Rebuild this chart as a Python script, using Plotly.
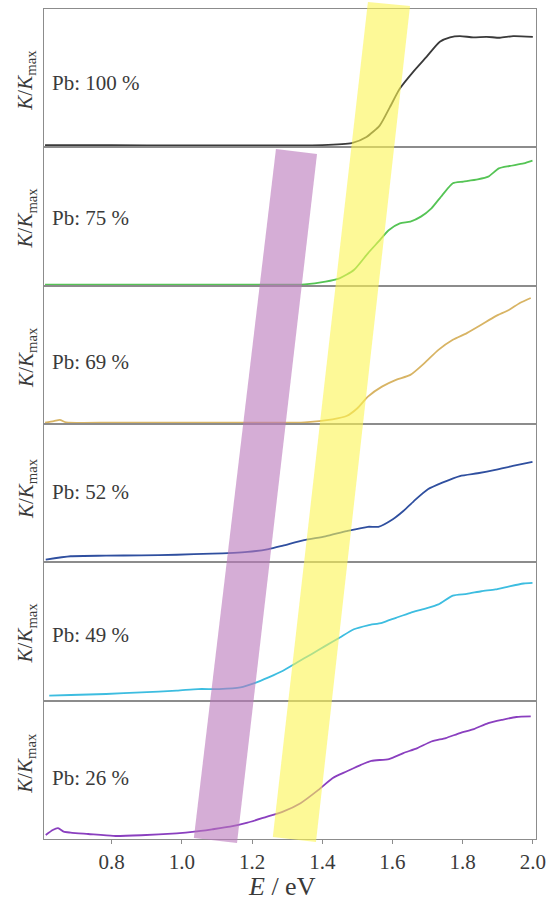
import plotly.graph_objects as go
from plotly.subplots import make_subplots

# Photon energy E (eV) and normalised absorption K/K_max for each Pb fraction
E_pb100 = [0.61, 0.80, 1.00, 1.20, 1.40, 1.484, 1.526, 1.564, 1.593, 1.621, 1.659, 1.697,
           1.735, 1.764, 1.792, 1.830, 1.868, 1.906, 1.944, 2.00]
K_pb100 = [0.016, 0.015, 0.014, 0.014, 0.016, 0.031, 0.075, 0.159, 0.292, 0.425, 0.546, 0.654,
           0.763, 0.795, 0.804, 0.795, 0.799, 0.792, 0.804, 0.799]

E_pb75 = [0.61, 0.80, 1.00, 1.20, 1.35, 1.409, 1.449, 1.490, 1.530, 1.560, 1.590, 1.621,
          1.651, 1.681, 1.711, 1.742, 1.772, 1.802, 1.843, 1.873, 1.903, 1.933, 1.974, 1.999]
K_pb75 = [0.008, 0.008, 0.008, 0.008, 0.010, 0.029, 0.053, 0.113, 0.234, 0.318, 0.402, 0.450,
          0.463, 0.499, 0.559, 0.655, 0.740, 0.752, 0.768, 0.788, 0.848, 0.865, 0.884, 0.904]

E_pb69 = [0.61, 0.635, 0.652, 0.67, 0.80, 1.00, 1.20, 1.35, 1.429, 1.469, 1.500, 1.530,
          1.570, 1.610, 1.651, 1.691, 1.731, 1.772, 1.812, 1.853, 1.893, 1.933, 1.963, 1.994]
K_pb69 = [0.010, 0.020, 0.030, 0.012, 0.010, 0.010, 0.010, 0.012, 0.034, 0.058, 0.114, 0.198,
          0.270, 0.319, 0.355, 0.440, 0.536, 0.609, 0.657, 0.717, 0.778, 0.826, 0.875, 0.911]

E_pb52 = [0.612, 0.683, 0.784, 0.884, 0.985, 1.086, 1.147, 1.187, 1.247, 1.288, 1.348, 1.409,
          1.469, 1.530, 1.560, 1.600, 1.631, 1.661, 1.701, 1.742, 1.792, 1.843, 1.893, 1.943, 1.999]
K_pb52 = [0.019, 0.044, 0.048, 0.051, 0.055, 0.063, 0.068, 0.075, 0.096, 0.121, 0.160, 0.188,
          0.225, 0.257, 0.257, 0.310, 0.371, 0.443, 0.528, 0.576, 0.624, 0.644, 0.668, 0.697, 0.727]

E_pb49 = [0.622, 0.683, 0.784, 0.884, 0.985, 1.046, 1.106, 1.167, 1.207, 1.247, 1.288, 1.328,
          1.369, 1.409, 1.449, 1.490, 1.530, 1.570, 1.610, 1.651, 1.691, 1.731, 1.772, 1.812,
          1.853, 1.893, 1.933, 1.974, 1.999]
K_pb49 = [0.036, 0.041, 0.048, 0.060, 0.072, 0.084, 0.084, 0.096, 0.127, 0.168, 0.216, 0.276,
          0.336, 0.396, 0.455, 0.516, 0.545, 0.563, 0.599, 0.635, 0.664, 0.696, 0.760, 0.772,
          0.791, 0.804, 0.827, 0.847, 0.851]

E_pb26 = [0.612, 0.632, 0.647, 0.663, 0.683, 0.733, 0.804, 0.884, 0.985, 1.036, 1.086, 1.137,
          1.187, 1.237, 1.288, 1.338, 1.389, 1.429, 1.469, 1.510, 1.540, 1.590, 1.631, 1.671,
          1.711, 1.752, 1.792, 1.832, 1.873, 1.913, 1.953, 1.994]
K_pb26 = [0.029, 0.065, 0.078, 0.053, 0.046, 0.036, 0.022, 0.027, 0.041, 0.053, 0.070, 0.089,
          0.118, 0.157, 0.198, 0.259, 0.355, 0.440, 0.488, 0.536, 0.565, 0.578, 0.621, 0.657,
          0.705, 0.730, 0.766, 0.795, 0.838, 0.862, 0.882, 0.886]

panel_labels = ["Pb: 100 %", "Pb: 75 %", "Pb: 69 %", "Pb: 52 %", "Pb: 49 %", "Pb: 26 %"]
line_colors = ["#3a3a3a", "#55c455", "#d8b464", "#2f4f9f", "#3dbde0", "#8a3fbf"]
energies = [E_pb100, E_pb75, E_pb69, E_pb52, E_pb49, E_pb26]
absorption = [K_pb100, K_pb75, K_pb69, K_pb52, K_pb49, K_pb26]

# Guide bands (energy at bottom/top edges, paper-y of those edges)
yellow_band = {"E_bottom": (1.259, 1.382), "E_top": (1.530, 1.650),
               "y_bottom": (0.0024, -0.0036), "y_top": (1.0084, 1.0036)}
purple_band = {"E_bottom": (1.034, 1.157), "E_top": (1.268, 1.385),
               "y_bottom": (0.0012, -0.0048), "y_top": (0.8313, 0.8253)}

x_tick_vals = [0.8, 1.0, 1.2, 1.4, 1.6, 1.8, 2.0]
x_range = [0.607, 2.009]

FONT = "Liberation Serif"
FRAME = "#8c8c8c"
TEXT = "#3a3a3a"

fig = make_subplots(rows=6, cols=1, shared_xaxes=True, vertical_spacing=0)

for i, (E, K, c) in enumerate(zip(energies, absorption, line_colors)):
    fig.add_trace(go.Scatter(x=E, y=K, mode="lines",
                             line=dict(color=c, width=1.8, shape="spline", smoothing=0.6),
                             showlegend=False, hoverinfo="skip"), row=i + 1, col=1)

fig.update_xaxes(range=x_range, showline=True, mirror=True, linecolor=FRAME, linewidth=1.2,
                 showgrid=False, zeroline=False, ticks="", tickvals=x_tick_vals)
fig.update_xaxes(ticks="outside", ticklen=4, tickcolor=FRAME, tickwidth=1.2,
                 tickformat=".1f", tickfont=dict(family=FONT, size=21, color=TEXT),
                 row=6, col=1)
fig.update_yaxes(range=[0, 1], showline=True, mirror=True, linecolor=FRAME, linewidth=1.2,
                 showgrid=False, zeroline=False, showticklabels=False, ticks="")

annotations = []
label_y = [0.911, 0.748, 0.575, 0.418, 0.246, 0.0735]
title_y = [0.914, 0.748, 0.580, 0.422, 0.248, 0.091]
for lab, ly, ty in zip(panel_labels, label_y, title_y):
    annotations.append(dict(text=lab, xref="paper", yref="paper", x=0.012, y=ly,
                            xanchor="left", yanchor="middle", showarrow=False,
                            font=dict(family=FONT, size=21, color=TEXT)))
    annotations.append(dict(text="<i>K</i>/<i>K</i><sub>max</sub>", xref="paper", yref="paper",
                            x=-0.036, y=ty, xanchor="center", yanchor="middle",
                            textangle=-90, showarrow=False,
                            font=dict(family=FONT, size=21, color=TEXT)))
annotations.append(dict(text="<i>E</i> / eV", xref="paper", yref="paper", x=0.484, y=-0.057,
                        xanchor="center", yanchor="middle", showarrow=False,
                        font=dict(family=FONT, size=26, color=TEXT)))


def band_path(b):
    (xb0, xb1), (xt0, xt1) = b["E_bottom"], b["E_top"]
    (yb0, yb1), (yt0, yt1) = b["y_bottom"], b["y_top"]
    return f"M {xb0},{yb0} L {xt0},{yt0} L {xt1},{yt1} L {xb1},{yb1} Z"


shapes = [
    dict(type="path", path=band_path(purple_band), xref="x6", yref="paper",
         fillcolor="rgba(185,118,187,0.6)", line=dict(width=0), layer="above"),
    dict(type="path", path=band_path(yellow_band), xref="x6", yref="paper",
         fillcolor="rgba(252,245,82,0.6)", line=dict(width=0), layer="above"),
]

fig.update_layout(width=556, height=903, margin=dict(l=44, r=20, t=9, b=64),
                  paper_bgcolor="white", plot_bgcolor="white",
                  annotations=annotations, shapes=shapes,
                  font=dict(family=FONT, color=TEXT))

fig.write_html("out.html")
